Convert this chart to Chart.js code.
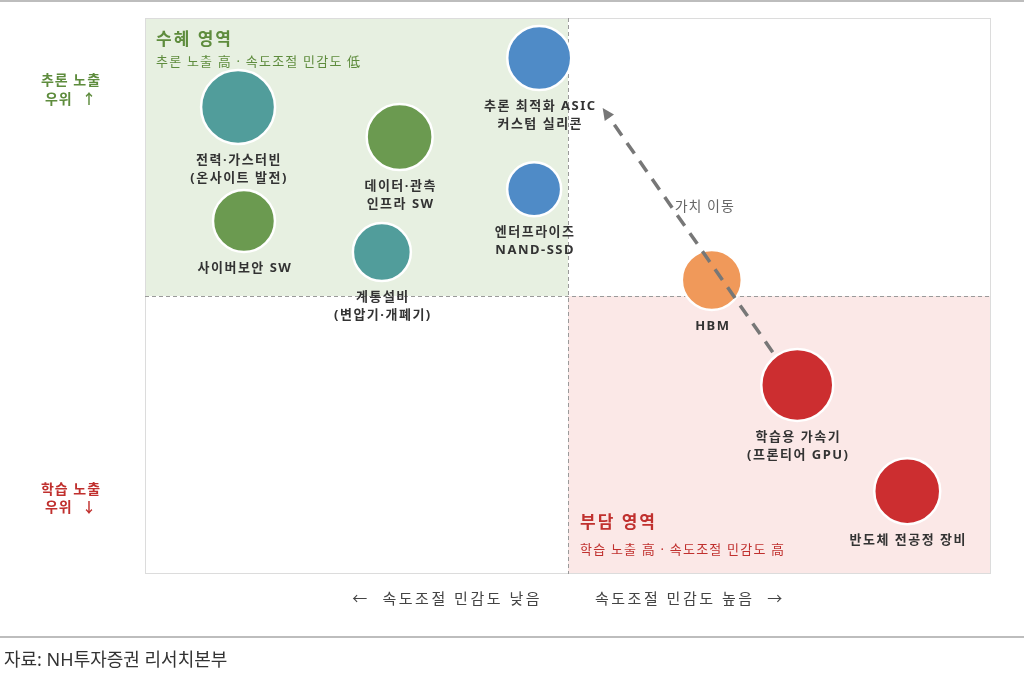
<!DOCTYPE html>
<html>
<head>
<meta charset="utf-8">
<script src="https://cdn.jsdelivr.net/npm/chart.js@4.4.1/dist/chart.umd.min.js"></script>
<style>
  html, body { margin: 0; padding: 0; background: #ffffff; }
  #wrap { position: relative; width: 1024px; height: 675px; }
  canvas { display: block; }
</style>
</head>
<body>
<div id="wrap"><canvas id="c" width="1024" height="675"></canvas></div>
<script>
// ---- data ----
const names = [
  ['전력·가스터빈', '(온사이트 발전)'],
  ['데이터·관측', '인프라 SW'],
  ['사이버보안 SW'],
  ['계통설비', '(변압기·개폐기)'],
  ['추론 최적화 ASIC', '커스텀 실리콘'],
  ['엔터프라이즈', 'NAND-SSD'],
  ['HBM'],
  ['학습용 가속기', '(프론티어 GPU)'],
  ['반도체 전공정 장비']
];
const speedSensitivity = [1.10, 3.01, 1.17, 2.80, 4.66, 4.60, 6.70, 7.71, 9.01];
const inferenceExposure = [8.40, 7.86, 6.35, 5.79, 9.28, 6.92, 5.29, 3.40, 1.49];
const bubbleSize = [37, 33, 31, 29, 32, 27, 30, 36, 33];
const groups = ['power', 'software', 'software', 'power', 'silicon', 'silicon', 'hbm', 'training', 'training'];
const axisMin = 0, axisMax = 10, axisMid = 5;
const arrowFrom = [7.42, 3.99];
const arrowTo = [5.41, 8.38];
const arrowLabel = '가치 이동';

const groupColors = {
  power: '#519d9b',
  software: '#6b9a50',
  silicon: '#4f8bc7',
  hbm: '#f0995a',
  training: '#cc2e30'
};

const FONT = '"Noto Sans", "Noto Sans CJK KR", sans-serif';

const points = speedSensitivity.map((x, i) => ({ x: x, y: inferenceExposure[i], r: bubbleSize[i] }));

function setLS(ctx, px) { if ('letterSpacing' in ctx) ctx.letterSpacing = px + 'px'; }

const quadrantPlugin = {
  id: 'quadrants',
  beforeDatasetsDraw(chart) {
    const { ctx, chartArea: a, scales: { x, y } } = chart;
    const mx = x.getPixelForValue(axisMid), my = y.getPixelForValue(axisMid);
    ctx.save();
    ctx.fillStyle = '#ffffff';
    ctx.fillRect(a.left, a.top, a.right - a.left, a.bottom - a.top);
    ctx.fillStyle = '#e7f0e1';
    ctx.fillRect(a.left, a.top, mx - a.left, my - a.top);
    ctx.fillStyle = '#fbe8e7';
    ctx.fillRect(mx, my, a.right - mx, a.bottom - my);
    ctx.strokeStyle = '#dcdcdc';
    ctx.lineWidth = 1;
    ctx.strokeRect(a.left + 0.5, a.top + 0.5, a.right - a.left - 1, a.bottom - a.top - 1);
    ctx.strokeStyle = '#9a9a9a';
    ctx.setLineDash([4, 3]);
    ctx.beginPath();
    ctx.moveTo(Math.round(mx) + 0.5, a.top);
    ctx.lineTo(Math.round(mx) + 0.5, a.bottom);
    ctx.moveTo(a.left, Math.round(my) + 0.5);
    ctx.lineTo(a.right, Math.round(my) + 0.5);
    ctx.stroke();
    ctx.setLineDash([]);

    // quadrant titles
    ctx.textAlign = 'left';
    ctx.textBaseline = 'middle';
    ctx.fillStyle = '#5e8c3d';
    ctx.font = 'bold 17px ' + FONT;
    setLS(ctx, 2);
    ctx.fillText('수혜 영역', a.left + 11, a.top + 22);
    ctx.font = '13px ' + FONT;
    setLS(ctx, 1.2);
    ctx.fillText('추론 노출 高 · 속도조절 민감도 低', a.left + 11, a.top + 44);
    ctx.fillStyle = '#c0302e';
    ctx.font = 'bold 17px ' + FONT;
    setLS(ctx, 2);
    ctx.fillText('부담 영역', mx + 12, a.bottom - 51);
    ctx.font = '13px ' + FONT;
    setLS(ctx, 1.2);
    ctx.fillText('학습 노출 高 · 속도조절 민감도 高', mx + 12, a.bottom - 24);
    ctx.restore();
  },
  afterDatasetsDraw(chart) {
    const { ctx, chartArea: a, scales: { x, y } } = chart;
    const meta = chart.getDatasetMeta(0);
    ctx.save();
    // bubble labels
    ctx.textAlign = 'center';
    ctx.textBaseline = 'middle';
    ctx.fillStyle = '#333333';
    ctx.font = 'bold 13px ' + FONT;
    setLS(ctx, 1.5);
    meta.data.forEach((el, i) => {
      const r = bubbleSize[i];
      names[i].forEach((line, k) => {
        ctx.fillText(line, el.x + 1, el.y + r + 16 + k * 18);
      });
    });
    // arrow
    const x1 = x.getPixelForValue(arrowFrom[0]), y1 = y.getPixelForValue(arrowFrom[1]);
    const x2 = x.getPixelForValue(arrowTo[0]), y2 = y.getPixelForValue(arrowTo[1]);
    const ang = Math.atan2(y2 - y1, x2 - x1);
    const headLen = 13;
    ctx.strokeStyle = '#777777';
    ctx.fillStyle = '#777777';
    ctx.lineWidth = 3.5;
    ctx.setLineDash([13, 9]);
    ctx.beginPath();
    ctx.moveTo(x1, y1);
    ctx.lineTo(x2 - Math.cos(ang) * headLen * 0.8, y2 - Math.sin(ang) * headLen * 0.8);
    ctx.stroke();
    ctx.setLineDash([]);
    ctx.beginPath();
    ctx.moveTo(x2, y2);
    ctx.lineTo(x2 - headLen * Math.cos(ang - 0.45), y2 - headLen * Math.sin(ang - 0.45));
    ctx.lineTo(x2 - headLen * Math.cos(ang + 0.45), y2 - headLen * Math.sin(ang + 0.45));
    ctx.closePath();
    ctx.fill();
    ctx.fillStyle = '#666666';
    ctx.font = '14px ' + FONT;
    setLS(ctx, 1);
    ctx.textAlign = 'center';
    const lx = (x1 + x2) / 2 + 17;
    const ly = (y1 + y2) / 2 - 23;
    ctx.fillText(arrowLabel, lx, ly);

    // side labels
    const mx = x.getPixelForValue(axisMid);
    ctx.font = 'bold 14px ' + FONT;
    setLS(ctx, 1);
    ctx.fillStyle = '#5e8c3d';
    ctx.fillText('추론 노출', 71, 81);
    ctx.fillText('우위  ↑', 71, 100);
    ctx.fillStyle = '#c0302e';
    ctx.fillText('학습 노출', 71, 490);
    ctx.fillText('우위  ↓', 71, 508);

    // bottom axis labels
    ctx.font = '15px ' + FONT;
    setLS(ctx, 2.5);
    ctx.fillStyle = '#444444';
    ctx.textAlign = 'right';
    ctx.fillText('←  속도조절 민감도 낮음', mx - 26, a.bottom + 26);
    ctx.textAlign = 'left';
    ctx.fillText('속도조절 민감도 높음  →', mx + 27, a.bottom + 26);

    // frame lines and source
    ctx.fillStyle = '#bdbdbd';
    ctx.fillRect(0, 0, chart.width, 2);
    ctx.fillRect(0, 636, chart.width, 2);
    ctx.fillStyle = '#333333';
    ctx.font = '18px ' + FONT;
    setLS(ctx, 0);
    ctx.textAlign = 'left';
    ctx.fillText('자료: NH투자증권 리서치본부', 4, 661);
    ctx.restore();
  }
};

new Chart(document.getElementById('c'), {
  type: 'bubble',
  data: {
    datasets: [{
      data: points,
      backgroundColor: groups.map(g => groupColors[g]),
      borderColor: '#ffffff',
      borderWidth: 2.5,
      hoverBorderWidth: 2.5,
      clip: false
    }]
  },
  options: {
    responsive: false,
    animation: false,
    events: [],
    layout: { autoPadding: false, padding: { left: 145, top: 18, right: 33, bottom: 101 } },
    plugins: { legend: { display: false }, tooltip: { enabled: false }, title: { display: false } },
    scales: {
      x: { type: 'linear', min: axisMin, max: axisMax, display: false },
      y: { type: 'linear', min: axisMin, max: axisMax, display: false }
    }
  },
  plugins: [quadrantPlugin]
});
</script>
</body>
</html>
